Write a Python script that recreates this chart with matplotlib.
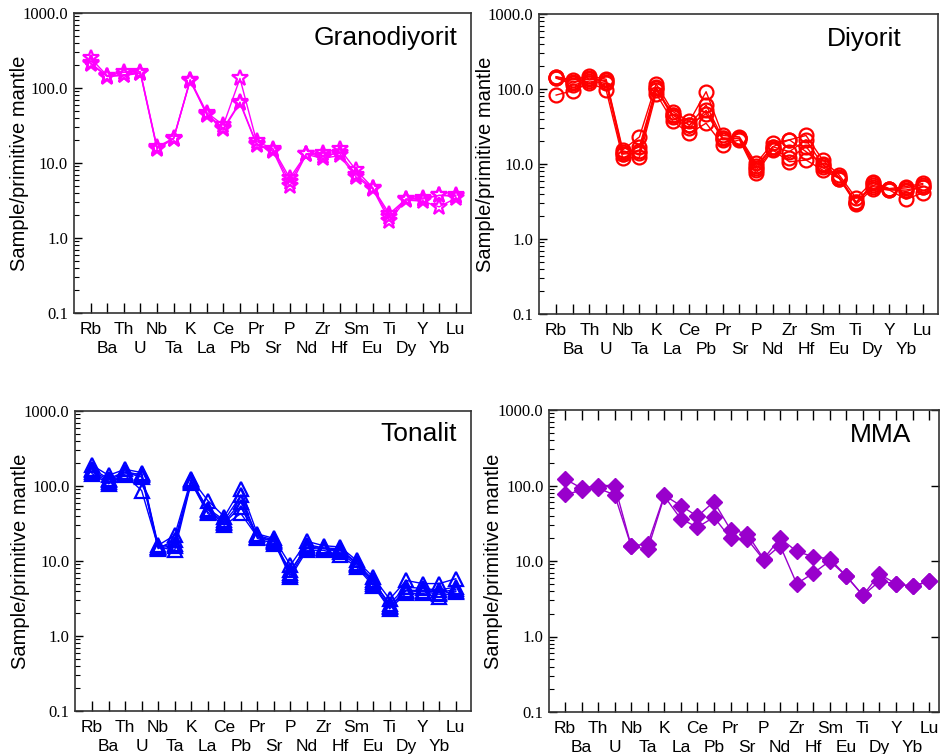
import matplotlib
matplotlib.use("Agg")
import matplotlib.pyplot as plt
from matplotlib.ticker import FixedLocator, LogLocator, FuncFormatter

elements = ["Rb", "Ba", "Th", "U", "Nb", "Ta", "K", "La", "Ce", "Pb", "Pr", "Sr",
            "P", "Nd", "Zr", "Hf", "Sm", "Eu", "Ti", "Dy", "Y", "Yb", "Lu"]

# Granodiyorit samples
gran1 = [250, 146, 162, 165, 16.3, 21.5, 129, 47, 32, 134, 19.4, 15.4, 6.3, 13.3, 13.6, 15.5, 8.0, 4.7, 2.1, 3.3, 3.4, 3.7, 3.7]
gran2 = [210, 142, 147, 157, 15.5, 21, 125, 44, 28, 63, 17.5, 14.3, 4.9, 13, 11.5, 12.6, 6.5, 4.5, 1.7, 3.2, 3.1, 2.6, 3.4]
gran3 = [215, 144, 150, 160, 15.8, 21, 127, 45, 29, 65, 18, 14.8, 5.6, 13.2, 12.5, 13.5, 7.0, 4.6, 1.9, 3.3, 3.3, 3.7, 3.6]

# Diyorit samples
diy1 = [146, 132, 149, 135, 15.4, 23, 117, 50, 37, 92, 24, 23, 10.2, 19, 21, 24, 11.3, 7.1, 3.5, 5.8, 4.7, 5.0, 5.5]
diy2 = [139, 120, 140, 125, 13.6, 17, 105, 45, 33, 61, 22, 22, 8.8, 17, 14.6, 21, 9.7, 6.4, 3.1, 5.0, 4.5, 4.5, 5.0]
diy3 = [83, 95, 121, 97, 11.9, 12.3, 87, 37, 25.6, 35, 18, 21, 7.5, 15.4, 10.7, 11.3, 8.3, 6.4, 2.9, 4.7, 4.5, 3.4, 4.1]
diy4 = [142, 113, 128, 119, 13.6, 13.9, 98, 45, 33, 47, 22, 22, 9.5, 17, 21, 14.6, 10, 6.7, 3.1, 5.2, 4.6, 4.3, 5.0]
diy5 = [145, 125, 135, 130, 14.5, 15, 102, 42, 30, 52, 21, 22, 8.2, 16, 12, 17, 9, 6.5, 3.0, 5.5, 4.6, 4.8, 5.3]

# Tonalit samples
ton1 = [189, 139, 167, 151, 16.2, 22, 125, 64, 39, 92, 23, 20, 8.8, 18.3, 16, 15.4, 10.2, 6.1, 3.1, 5.5, 5.0, 5.0, 5.8]
ton2 = [162, 119, 151, 132, 14.6, 19, 115, 50, 35, 75, 20, 17, 7.5, 15.4, 14.6, 13.9, 9.2, 5.3, 2.7, 4.5, 4.3, 4.1, 4.5]
ton3 = [146, 107, 139, 87, 15.4, 13.9, 111, 43, 30, 43, 21, 18, 6.1, 13.9, 13.9, 11.9, 8.3, 4.7, 2.3, 3.7, 3.7, 3.3, 3.9]
ton4 = [170, 125, 155, 140, 15, 16, 120, 48, 33, 61, 22, 19, 7.0, 16.5, 15, 14.5, 9.5, 5.6, 2.5, 4.1, 4.0, 3.8, 4.2]
ton5 = [155, 112, 145, 145, 15.5, 17, 113, 45, 32, 53, 21, 18.5, 6.5, 15, 14.8, 13, 8.8, 5.0, 2.4, 4.0, 3.9, 3.6, 4.0]

# MMA samples
mma1 = [122, 92, 100, 100, 15.7, 17, 74, 54, 39, 61, 26, 23, 10.7, 20, 13.4, 11.4, 10.7, 6.3, 3.5, 6.7, 5.0, 4.6, 5.4]
mma2 = [76, 86, 92, 75, 15.7, 14.3, 72, 36, 28, 38, 20, 19.6, 10.4, 16, 5.0, 6.9, 10, 6.3, 3.5, 5.4, 5.0, 4.6, 5.4]

panels = [
    ("Granodiyorit", [gran1, gran2, gran3], "#FF00FF", "*", 12, False,
     [73.5, 13, 471, 313], (0.967, 0.917), -44),
    ("Diyorit", [diy1, diy2, diy3, diy4, diy5], "#FF0000", "o", 10, False,
     [539, 14, 938, 314], (0.91, 0.917), -44),
    ("Tonalit", [ton1, ton2, ton3, ton4, ton5], "#0000FF", "^", 10, False,
     [75, 411, 471, 711], (0.965, 0.923), -45),
    ("MMA", [mma1, mma2], "#9900CC", "D", 8, True,
     [549, 410, 939, 712], (0.93, 0.917), -46),
]

W, H = 940, 754
fig = plt.figure(figsize=(W / 100, H / 100), dpi=100)

x = list(range(len(elements)))
even_x = x[0::2]
odd_x = x[1::2]

for name, series, col, mk, ms, boxticks, box, tpos, ylab in panels:
    l, t, r, b = box
    ax = fig.add_axes([l / W, 1 - b / H, (r - l) / W, (b - t) / H])
    for s in series:
        if mk == "D":
            ax.plot(x, s, color=col, lw=1, marker=mk, ms=ms, mfc=col, mec=col)
        else:
            ax.plot(x, s, color=col, lw=1, marker=mk, ms=ms, mfc="none",
                    mec=col, mew=1.6)
    ax.set_yscale("log")
    ax.set_ylim(0.1, 1000)
    if name == "MMA":
        ax.set_xlim(-0.97, 22.6)
    else:
        ax.set_xlim(-1.03, 22.92)
    # two rows of element names: even ones on top row, odd ones below
    ax.set_xticks(even_x, [elements[i] for i in even_x])
    ax.set_xticks(odd_x, [elements[i] for i in odd_x], minor=True)
    for lab in ax.get_xticklabels(which="both"):
        lab.set_family("Liberation Sans")
        lab.set_fontsize(12.5)
    ax.yaxis.set_major_locator(FixedLocator([0.1, 1, 10, 100, 1000]))
    ax.yaxis.set_minor_locator(LogLocator(base=10, subs=range(2, 10)))
    ax.yaxis.set_major_formatter(FuncFormatter(lambda v, p: "%.1f" % v))
    for lab in ax.get_yticklabels():
        lab.set_family("Liberation Serif")
        lab.set_fontsize(12)
    ax.tick_params(axis="x", which="major", direction="in", length=7, width=1,
                   pad=6.5, top=boxticks)
    ax.tick_params(axis="x", which="minor", direction="in", length=7, width=1,
                   pad=20.5, top=boxticks)
    ax.tick_params(axis="y", which="major", direction="in", length=6, width=1,
                   pad=4, right=boxticks)
    ax.tick_params(axis="y", which="minor", direction="in", length=3.5,
                   width=0.8, right=False)
    for sp in ax.spines.values():
        sp.set_linewidth(1.2)
        sp.set_color("#333333")
    ax.set_ylabel("Sample/primitive mantle", fontsize=14.5,
                  family="Liberation Sans")
    ax.yaxis.set_label_coords(ylab / (r - l), 0.5)
    ax.text(tpos[0], tpos[1], name, transform=ax.transAxes, ha="right",
            va="center", fontsize=19, family="Liberation Sans")

fig.savefig("out.png", dpi=100)
